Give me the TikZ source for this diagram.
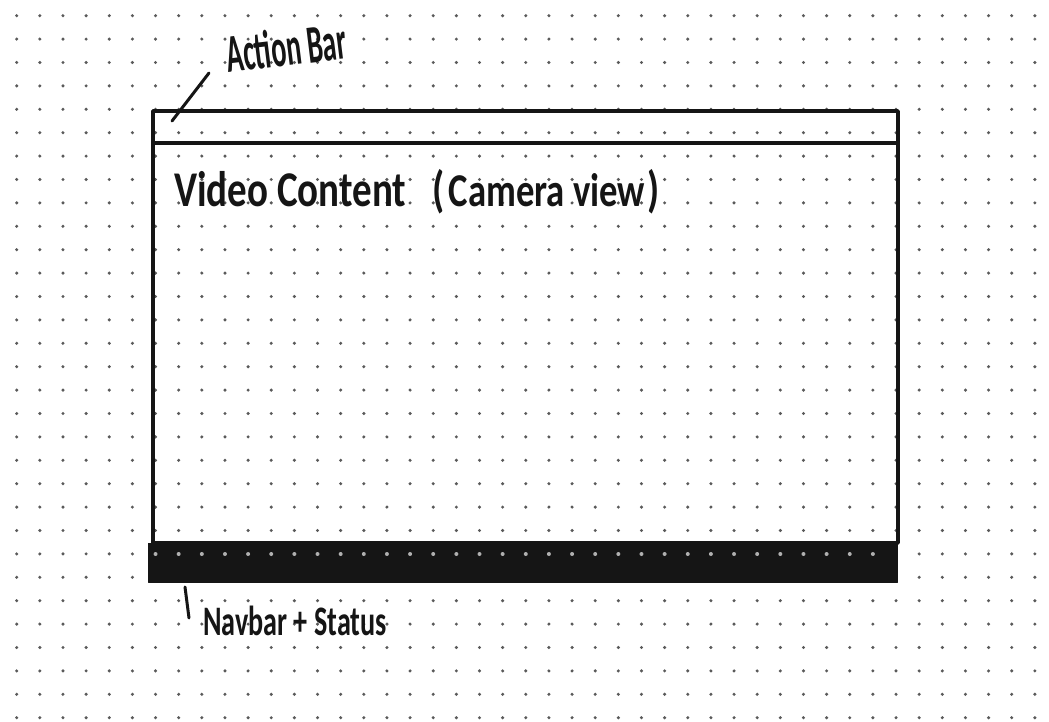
\documentclass[tikz,border=0pt]{standalone}
\usepackage{fontspec}
\setmainfont{Carlito}
\definecolor{ink}{HTML}{151515}
\definecolor{dotc}{HTML}{5A5A5A}
\definecolor{dotbar}{HTML}{B0B0B0}
\begin{document}
\begin{tikzpicture}[x=1pt,y=-1pt,
  inkline/.style={draw=ink,line width=3.4pt,line cap=round,line join=round},
  panel/.style={inkline,minimum width=#1,anchor=north west,inner sep=0pt,outer sep=0pt},
  lbl/.style={text=ink,inner sep=0pt,anchor=base west,font=\bfseries}]
\useasboundingbox[fill=white] (0,0) rectangle (1049,722);
% dot grid
\foreach \i in {0,...,44}{
  \foreach \j in {0,...,30}{
    \fill[dotc] (16.7+\i*23.14,15.7+\j*23.4) circle[radius=1.7pt];
  }
}
% panels
\node[panel=745pt,minimum height=32pt] (action) at (153,111) {};
\node[panel=745pt,minimum height=400pt] (content) at (153,143) {};
\node[panel=749pt,minimum height=39pt,fill=ink,draw=ink,line width=1pt] (navbar) at (148,543) {};
% dots seen through the navbar
\foreach \k in {6,...,37}{
  \fill[dotbar] ({16.7+\k*23.14},554) circle[radius=2pt];
}
% labels
\node[lbl,rotate=7] (ablabel) at (228,73) {\scalebox{0.52}[1]{\fontsize{54}{54}\selectfont Action Bar}};
\node[lbl] (vclabel) at (174,207) {\scalebox{0.78}[1]{\fontsize{50}{50}\selectfont Video Content\hspace{34pt}(\hspace{5pt}{\fontsize{47}{47}\selectfont Camera view}\hspace{3pt})}};
\node[lbl] (nblabel) at (203,635) {\scalebox{0.67}[1]{\fontsize{42}{42}\selectfont Navbar + Status}};
% leaders
\coordinate (abfoot) at (172,121);
\coordinate (abtip) at (209,73);
\coordinate (nbtop) at (185,587);
\coordinate (nbfoot) at (189,618);
\draw[inkline,line width=3pt] (abfoot) -- (abtip);
\draw[inkline,line width=3pt] (nbtop) -- (nbfoot);
\end{tikzpicture}
\end{document}
